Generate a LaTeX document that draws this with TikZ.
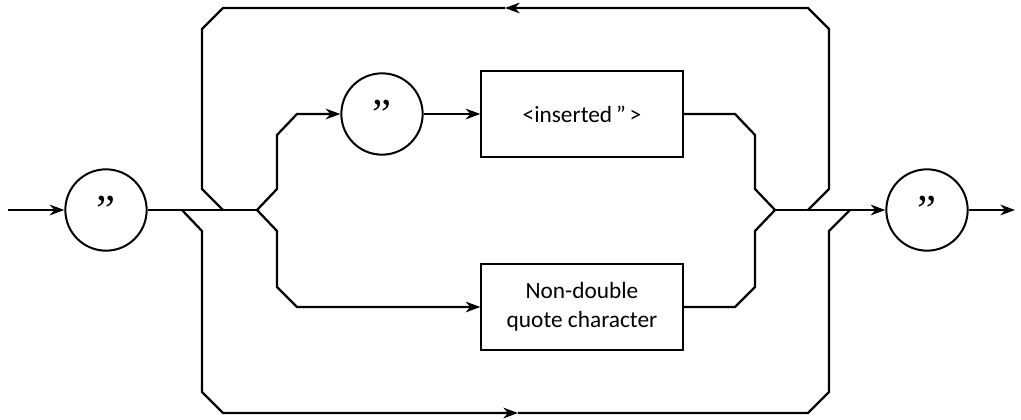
\documentclass[tikz,border=0pt]{standalone}
\usepackage{fontspec}
\setmainfont{Carlito}
\newfontfamily\quotefont{Liberation Serif}
\usepackage{tikz}
\usetikzlibrary{arrows.meta, positioning}

\tikzset{
        rail/.style={line width=1.7pt, line join=miter},
        tip/.style={rail, -{Stealth[length=11pt, width=8pt, inset=3.5pt]}},
        quotecircle/.style={draw, circle, line width=1.5pt, minimum size=61pt, inner sep=0pt,
                font=\quotefont\fontsize{32}{32}\selectfont},
        charbox/.style={draw, rectangle, line width=1.5pt, minimum width=151pt, minimum height=64pt,
                align=center, font=\fontsize{17.5}{22}\selectfont}
}

\begin{document}
\begin{tikzpicture}[x=0.75pt, y=-0.75pt]

        \useasboundingbox (0,0) rectangle (1021,420);

        \node[quotecircle] (Q_1) at (106,210) {”};
        \node[quotecircle] (Q_2) at (382,114) {”};
        \node[quotecircle] (Q_3) at (927,210) {”};
        \node[charbox] (B_1) at (582,114) {<inserted\,"\,>};
        \node[charbox] (B_2) at (582,307) {Non-double\\quote character};

        \coordinate (S_0) at (8,210);
        \coordinate (S_1) at (182,210);
        \coordinate (S_2) at (223,210);
        \coordinate (S_3) at (257,210);
        \coordinate (M_3) at (775,210);
        \coordinate (M_2) at (808,210);
        \coordinate (M_1) at (850,210);
        \coordinate (E_0) at (1015,210);

        \coordinate (T_1) at (829,189);
        \coordinate (T_2) at (829,29);
        \coordinate (T_3) at (808,8);
        \coordinate (T_4) at (505,8);
        \coordinate (T_5) at (223,8);
        \coordinate (T_6) at (202,29);
        \coordinate (T_7) at (202,189);

        \coordinate (L_1) at (202,231);
        \coordinate (L_2) at (202,392);
        \coordinate (L_3) at (223,413);
        \coordinate (L_4) at (518,413);
        \coordinate (L_5) at (808,413);
        \coordinate (L_6) at (829,392);
        \coordinate (L_7) at (829,231);

        \coordinate (U_1) at (277,189);
        \coordinate (U_2) at (277,135);
        \coordinate (U_3) at (297,114);
        \coordinate (U_4) at (735,114);
        \coordinate (U_5) at (755,135);
        \coordinate (U_6) at (755,189);

        \coordinate (D_1) at (277,231);
        \coordinate (D_2) at (277,287);
        \coordinate (D_3) at (297,307);
        \coordinate (D_4) at (735,307);
        \coordinate (D_5) at (755,287);
        \coordinate (D_6) at (755,231);

        \draw[tip] (S_0) -- (Q_1);
        \draw[rail] (Q_1) -- (S_3);
        \draw[tip] (M_3) -- (Q_3);
        \draw[tip] (Q_3) -- (E_0);

        \draw[tip] (M_2) -- (T_1) -- (T_2) -- (T_3) -- (T_4);
        \draw[rail] (T_4) -- (T_5) -- (T_6) -- (T_7) -- (S_2);

        \draw[tip] (S_1) -- (L_1) -- (L_2) -- (L_3) -- (L_4);
        \draw[rail] (L_4) -- (L_5) -- (L_6) -- (L_7) -- (M_1);

        \draw[tip] (S_3) -- (U_1) -- (U_2) -- (U_3) -- (Q_2);
        \draw[tip] (Q_2) -- (B_1);
        \draw[rail] (B_1) -- (U_4) -- (U_5) -- (U_6) -- (M_3);

        \draw[tip] (S_3) -- (D_1) -- (D_2) -- (D_3) -- (B_2);
        \draw[rail] (B_2) -- (D_4) -- (D_5) -- (D_6) -- (M_3);
    \end{tikzpicture}
\end{document}
